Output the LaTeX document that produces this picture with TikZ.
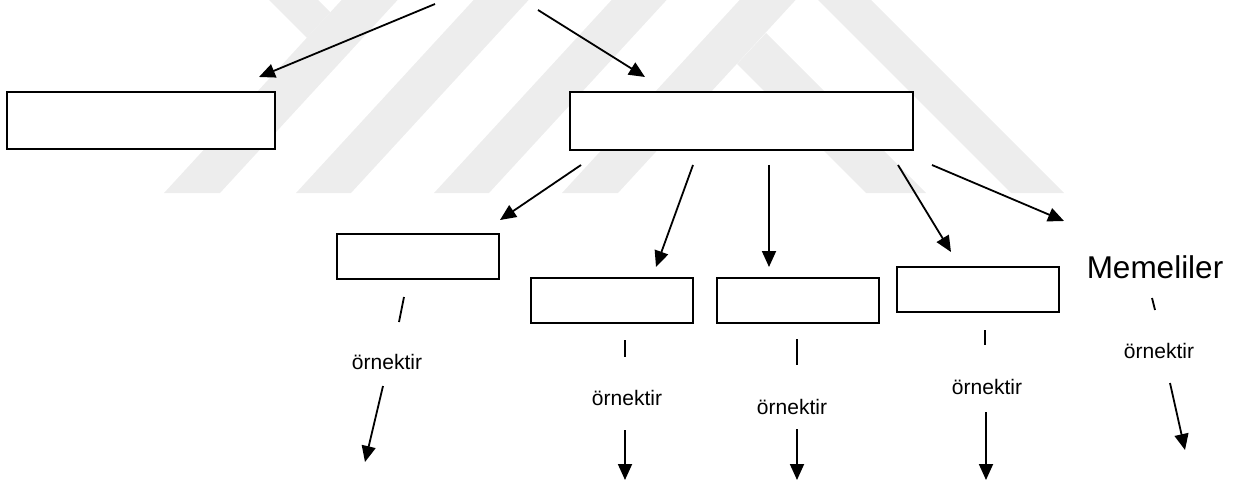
\documentclass[tikz,border=0pt]{standalone}
\usepackage{fontspec}
\setmainfont{Liberation Sans}
\usetikzlibrary{arrows.meta}
\definecolor{markgray}{HTML}{EDEDED}
\begin{document}
\begin{tikzpicture}[x=1pt,y=-1pt,
  box/.style={draw=black,line width=1.8pt,fill=white,inner sep=0pt},
  link/.style={line width=1.8pt,-{Triangle[length=16pt,width=14pt]}},
  tick/.style={line width=1.8pt},
  small/.style={font=\fontsize{21}{25}\selectfont,inner sep=0pt},
  big/.style={font=\fontsize{31.5}{36}\selectfont,inner sep=0pt}]
\useasboundingbox (0,0) rectangle (1240,484);

% faint background emblem
\begin{scope}[fill=markgray]
  \fill (164,193) -- (220,193) -- (397.6,0) -- (341.6,0) -- cycle;
  \fill (269,0) -- (318,0) -- (330.3,12.3) -- (306.8,37.8) -- cycle;
  \fill (296,193) -- (351,193) -- (528.6,0) -- (473.6,0) -- cycle;
  \fill (434,193) -- (489,193) -- (666.6,0) -- (611.6,0) -- cycle;
  \fill (562,193) -- (618,193) -- (795.6,0) -- (739.6,0) -- cycle;
  \fill (818,0) -- (871,0) -- (1064,193) -- (1011,193) -- cycle;
  \fill (737,64) -- (766,33) -- (926,193) -- (866,193) -- cycle;
\end{scope}

% boxes
\node[box,minimum width=268pt,minimum height=57pt] (left) at (141,120.5) {};
\node[box,minimum width=343pt,minimum height=58pt] (main) at (741.5,121) {};
\node[box,minimum width=162pt,minimum height=45pt] (b1) at (418,256.5) {};
\node[box,minimum width=162pt,minimum height=45pt] (b2) at (612,300.5) {};
\node[box,minimum width=162pt,minimum height=45pt] (b3) at (798,300.5) {};
\node[box,minimum width=162pt,minimum height=45pt] (b4) at (978,289.5) {};
\node[big] (mem) at (1155,267) {Memeliler};

% labels
\node[small] (l1) at (387,362) {örnektir};
\node[small] (l2) at (627,398) {örnektir};
\node[small] (l3) at (792,407) {örnektir};
\node[small] (l4) at (987,387) {örnektir};
\node[small] (l5) at (1159,351) {örnektir};

% arrow end points
\coordinate (ta) at (435,4);   \coordinate (ha) at (259,77);
\coordinate (tb) at (538,10);  \coordinate (hb) at (645,77);
\coordinate (s1) at (581,165); \coordinate (e1) at (500,220);
\coordinate (s2) at (693,165); \coordinate (e2) at (656,267);
\coordinate (s3) at (769,165); \coordinate (e3) at (769,267);
\coordinate (s4) at (898,165); \coordinate (e4) at (951,252);
\coordinate (s5) at (932,165); \coordinate (e5) at (1064,221);

\draw[link] (ta) -- (ha);
\draw[link] (tb) -- (hb);
\draw[link] (s1) -- (e1);
\draw[link] (s2) -- (e2);
\draw[link] (s3) -- (e3);
\draw[link] (s4) -- (e4);
\draw[link] (s5) -- (e5);

% short strokes under the boxes
\coordinate (k1a) at (404,297); \coordinate (k1b) at (399,322);
\coordinate (k2a) at (625,340); \coordinate (k2b) at (625,357);
\coordinate (k3a) at (797,339); \coordinate (k3b) at (797,365);
\coordinate (k4a) at (985,330); \coordinate (k4b) at (985,345);
\coordinate (k5a) at (1152,298); \coordinate (k5b) at (1155,310);
\draw[tick] (k1a) -- (k1b);
\draw[tick] (k2a) -- (k2b);
\draw[tick] (k3a) -- (k3b);
\draw[tick] (k4a) -- (k4b);
\draw[tick] (k5a) -- (k5b);

% arrows below the labels
\coordinate (d1) at (365,462);  \coordinate (c1) at (383,386);
\coordinate (d2) at (625,480);  \coordinate (c2) at (625,430);
\coordinate (d3) at (797,480);  \coordinate (c3) at (797,429);
\coordinate (d4) at (986,480);  \coordinate (c4) at (986,412);
\coordinate (d5) at (1185,450); \coordinate (c5) at (1170,383);
\draw[link] (c1) -- (d1);
\draw[link] (c2) -- (d2);
\draw[link] (c3) -- (d3);
\draw[link] (c4) -- (d4);
\draw[link] (c5) -- (d5);
\end{tikzpicture}
\end{document}
